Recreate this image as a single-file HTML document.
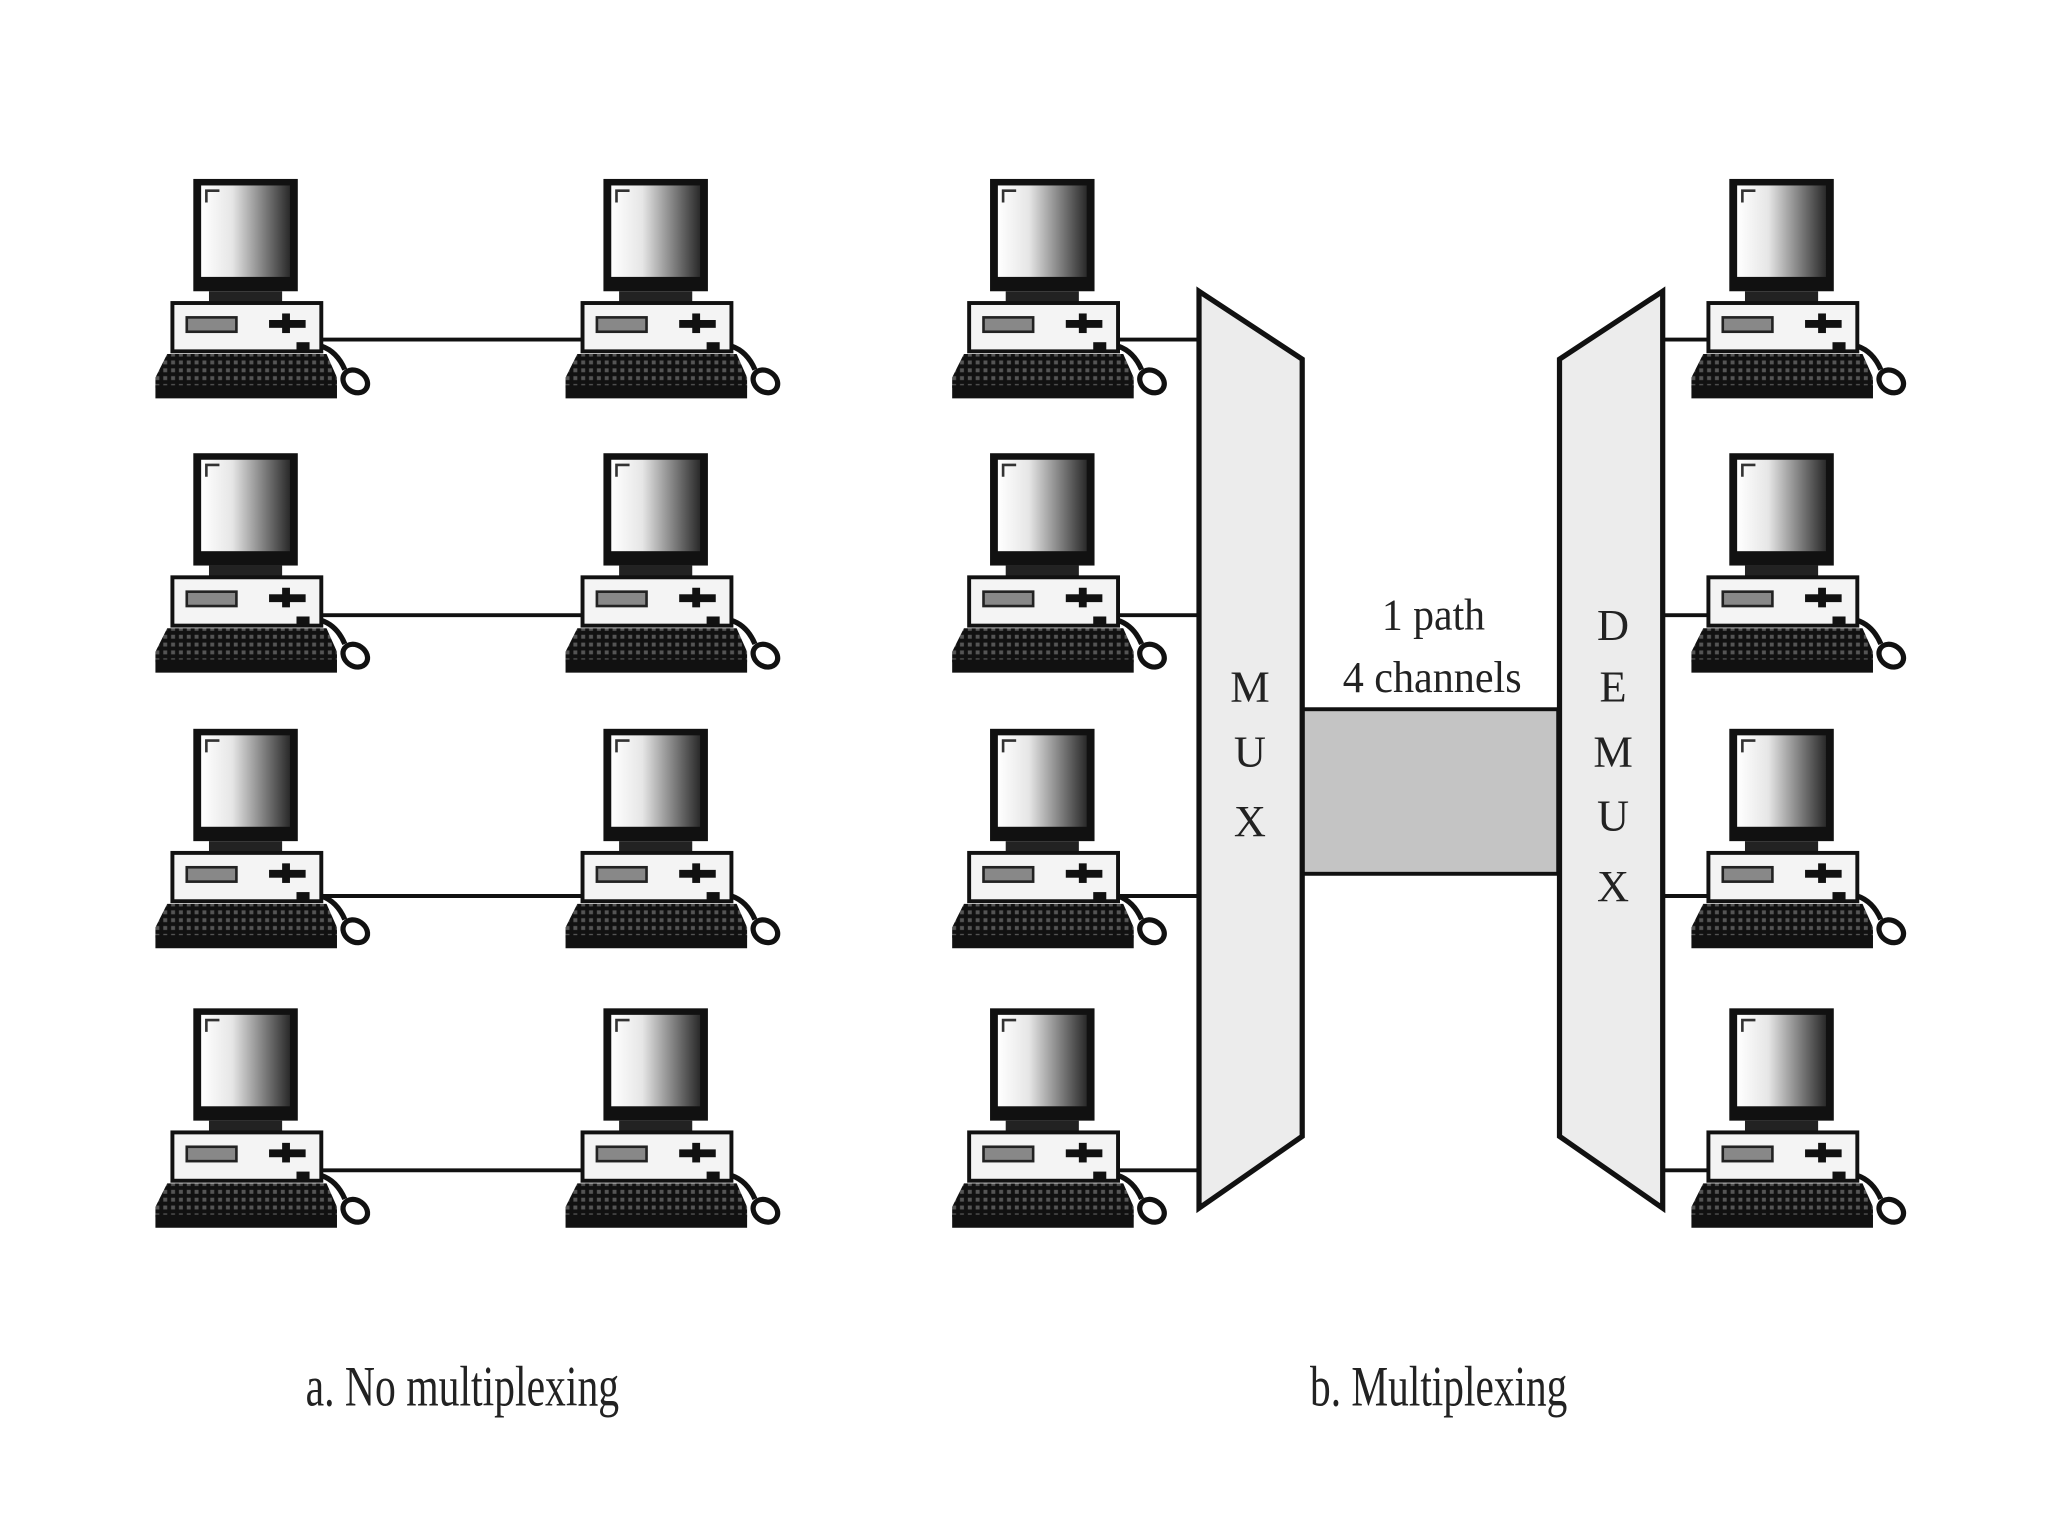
<!DOCTYPE html>
<html><head><meta charset="utf-8"><style>
html,body{margin:0;padding:0;background:#fff;}
svg{display:block;}
text{font-family:"Liberation Serif",serif;fill:#222;}
</style></head><body>
<svg width="2048" height="1536" viewBox="0 0 1568 1176" xmlns="http://www.w3.org/2000/svg">
<defs>
<linearGradient id="scr" x1="0" y1="0" x2="1" y2="0">
<stop offset="0" stop-color="#fff"/><stop offset="0.35" stop-color="#e6e6e6"/><stop offset="1" stop-color="#2a2a2a"/>
</linearGradient>
<pattern id="keys" width="6" height="6" patternUnits="userSpaceOnUse">
<rect width="6" height="6" fill="#111"/><rect x="1" y="1" width="3" height="3" fill="#555"/>
</pattern>
<g id="pc">
<rect x="30" y="0" width="80" height="86" fill="#111"/>
<rect x="36" y="5" width="68" height="70" fill="url(#scr)"/>
<path d="M40 18 L40 9 L50 9" stroke="#333" stroke-width="2" fill="none"/>
<rect x="42" y="86" width="56" height="8" fill="#222"/>
<rect x="14" y="95" width="114" height="37" fill="#f4f4f4" stroke="#111" stroke-width="3"/>
<rect x="25" y="106" width="38" height="11" fill="#888" stroke="#222" stroke-width="2"/>
<rect x="88" y="108" width="28" height="6" fill="#111"/>
<rect x="98" y="103" width="6" height="15" fill="#111"/>
<rect x="109" y="125" width="10" height="7" fill="#111"/>
<path d="M10 134 L132 134 L140 152 L140 160 L1 160 L1 152 Z" fill="url(#keys)"/>
<rect x="1" y="158" width="139" height="10" fill="#111"/>
<path d="M128 128 Q140 132 146 146" stroke="#111" stroke-width="4" fill="none"/>
<ellipse cx="154" cy="155" rx="10" ry="8" fill="#fff" stroke="#111" stroke-width="4" transform="rotate(35 154 155)"/>
</g>
</defs>
<!-- left connections -->
<g stroke="#111" stroke-width="3">
<line x1="246" y1="260" x2="446" y2="260"/>
<line x1="246" y1="471" x2="446" y2="471"/>
<line x1="246" y1="686" x2="446" y2="686"/>
<line x1="246" y1="896" x2="446" y2="896"/>
<line x1="856" y1="260" x2="918" y2="260"/>
<line x1="856" y1="471" x2="918" y2="471"/>
<line x1="856" y1="686" x2="918" y2="686"/>
<line x1="856" y1="896" x2="918" y2="896"/>
<line x1="1273" y1="260" x2="1310" y2="260"/>
<line x1="1273" y1="471" x2="1310" y2="471"/>
<line x1="1273" y1="686" x2="1310" y2="686"/>
<line x1="1273" y1="896" x2="1310" y2="896"/>
</g>
<g>
<use href="#pc" x="118" y="137"/><use href="#pc" x="118" y="347"/><use href="#pc" x="118" y="558"/><use href="#pc" x="118" y="772"/>
<use href="#pc" x="432" y="137"/><use href="#pc" x="432" y="347"/><use href="#pc" x="432" y="558"/><use href="#pc" x="432" y="772"/>
<use href="#pc" x="728" y="137"/><use href="#pc" x="728" y="347"/><use href="#pc" x="728" y="558"/><use href="#pc" x="728" y="772"/>
<use href="#pc" x="1294" y="137"/><use href="#pc" x="1294" y="347"/><use href="#pc" x="1294" y="558"/><use href="#pc" x="1294" y="772"/>
</g>
<!-- band -->
<rect x="997" y="543" width="196" height="126" fill="#c4c4c4" stroke="#111" stroke-width="3"/>
<!-- MUX -->
<polygon points="918,223 997,275 997,870 918,925" fill="#ececec" stroke="#111" stroke-width="4"/>
<polygon points="1273,223 1194,275 1194,870 1273,925" fill="#ececec" stroke="#111" stroke-width="4"/>
<g font-size="34" text-anchor="middle">
<text x="957" y="537">M</text><text x="957" y="587">U</text><text x="957" y="640">X</text>
<text x="1235" y="490">D</text><text x="1235" y="537">E</text><text x="1235" y="587">M</text><text x="1235" y="636">U</text><text x="1235" y="690">X</text>
</g>
<text x="1058" y="482" font-size="34" textLength="79" lengthAdjust="spacingAndGlyphs">1 path</text>
<text x="1028" y="530" font-size="34" textLength="137" lengthAdjust="spacingAndGlyphs">4 channels</text>
<text x="234" y="1076" font-size="44" textLength="240" lengthAdjust="spacingAndGlyphs">a. No multiplexing</text>
<text x="1003" y="1076" font-size="44" textLength="197" lengthAdjust="spacingAndGlyphs">b. Multiplexing</text>
</svg>
</body></html>
